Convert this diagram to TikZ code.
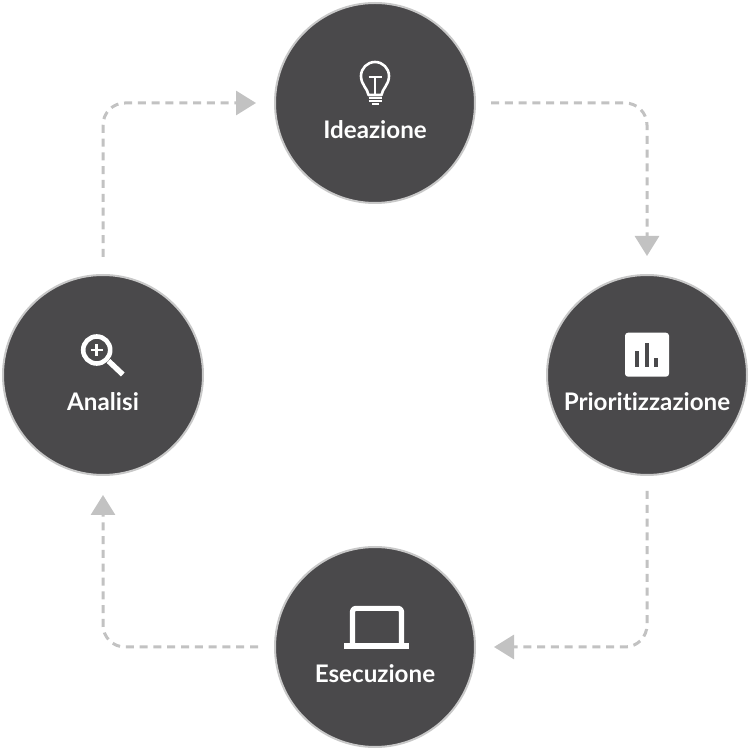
\documentclass[tikz,border=0pt]{standalone}
\usepackage{xcolor}
\usepackage{fontspec}
\setmainfont[Ligatures=NoCommon]{Lato}
\usepackage{tikz}
\usetikzlibrary{arrows.meta}
\definecolor{fase}{HTML}{4A494B}
\definecolor{bordo}{HTML}{C8C8C8}
\definecolor{freccia}{HTML}{C2C2C2}
\tikzset{
  fasenode/.style={circle,fill=fase,draw=bordo,line width=2pt,minimum size=200pt,inner sep=0pt,outer sep=0pt},
  titolo/.style={text=white,font=\fontsize{24.2}{29}\selectfont\bfseries,inner sep=0pt},
  flusso/.style={draw=freccia,line width=3pt,dash pattern=on 8pt off 5.8pt,rounded corners=22pt,
    -{Triangle[length=20pt,width=24pt,fill=freccia,sep=0pt]}},
  icona/.style={draw=white,fill=none,line cap=butt,line join=round}
}
\begin{document}
\begin{tikzpicture}[x=1pt,y=1pt]
    \useasboundingbox (0,0) rectangle (750,750);

    \node[fasenode] (ideazione) at (375,647) {};
    \node[fasenode] (prioritizzazione) at (647,375) {};
    \node[fasenode] (esecuzione) at (375,103) {};
    \node[fasenode] (analisi) at (103,375) {};

    \node[titolo] (ideazionetxt) at ([yshift=-26.5pt]ideazione.center) {Ideazione};
    \node[titolo] (prioritizzazionetxt) at ([yshift=-26.5pt]prioritizzazione.center) {Prioritizzazione};
    \node[titolo] (esecuzionetxt) at ([yshift=-26.5pt]esecuzione.center) {Esecuzione};
    \node[titolo] (analisitxt) at ([yshift=-26.5pt]analisi.center) {Analisi};

    \draw[flusso,shorten <=16pt,shorten >=19pt] (ideazione.east) -| (prioritizzazione.north);
    \draw[flusso,shorten <=16pt,shorten >=19pt] (prioritizzazione.south) |- (esecuzione.east);
    \draw[flusso,shorten <=17pt,shorten >=20pt] (esecuzione.west) -| (analisi.south);
    \draw[flusso,shorten <=18pt,shorten >=19pt] (analisi.north) |- (ideazione.west);

    % lampadina
    \begin{scope}[shift={(ideazione.center)}]
      \draw[icona,line width=2.6pt] (-6.5,8) .. controls (-7,14) and (-14,18) .. (-14,27)
        arc (180:0:14) .. controls (14,18) and (7,14) .. (6.5,8) -- cycle;
      \draw[icona,line width=2.4pt] (-6.5,26) -- (6.5,26) (0,26) -- (0,8);
      \draw[icona,line width=2.2pt] (-6.5,5) -- (6.5,5);
      \draw[icona,line width=2.2pt] (-6.5,1.8) -- (6.5,1.8);
      \draw[icona,line width=2.2pt] (-3.5,-1.2) -- (3.5,-1.2);
    \end{scope}

    % grafico
    \begin{scope}[shift={(prioritizzazione.center)}]
      \fill[white,rounded corners=3pt] (-22,-1.7) rectangle (22,42.3);
      \fill[fase] (-11.7,8.3) rectangle (-7.7,24.3);
      \fill[fase] (-2,8.3) rectangle (2,31.7);
      \fill[fase] (7.3,8.3) rectangle (11.3,17.3);
    \end{scope}

    % computer
    \begin{scope}[shift={(esecuzione.center)}]
      \draw[icona,line width=5.2pt,rounded corners=3pt] (-22.5,3) -- (-22.5,38.6) -- (26.5,38.6) -- (26.5,3);
      \fill[white] (-31,-2.3) rectangle (34.3,4.2);
    \end{scope}

    % lente
    \begin{scope}[shift={(analisi.center)}]
      \draw[icona,line width=4.6pt] (-6.3,25) circle (13.5);
      \draw[icona,line width=2.6pt] (-12.3,25) -- (-0.3,25) (-6.3,19) -- (-6.3,31);
      \draw[icona,line width=5.4pt] (5.5,14) -- (19.8,0.5);
    \end{scope}
\end{tikzpicture}
\end{document}
